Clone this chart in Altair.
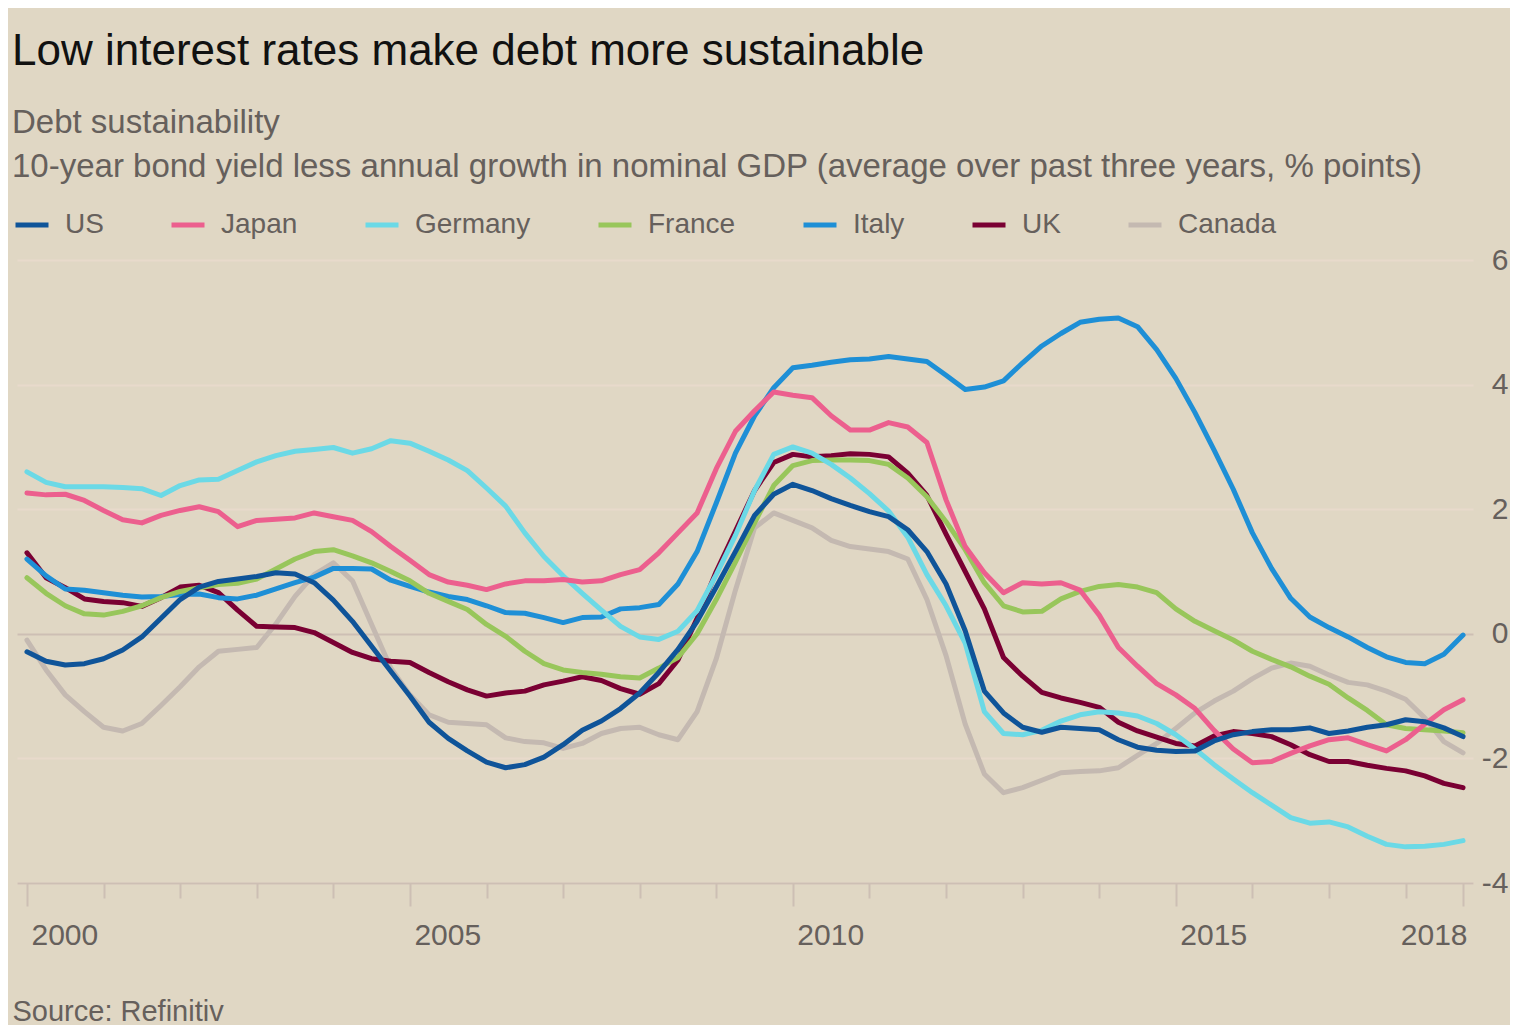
import altair as alt
import pandas as pd

# ---------------- data ----------------
countries = ["US", "Japan", "Germany", "France", "Italy", "UK", "Canada"]
colors = ["#0F5499", "#EC5F8E", "#6BD9E6", "#98C65B", "#1E8FD6", "#7A0033", "#C4B9B1"]

# quarterly observations, 2000 Q1 .. 2018 Q4
quarters = [2000 + 0.25 * i for i in range(76)]

US = [
    -0.29, -0.44, -0.50, -0.48,
    -0.40, -0.26, -0.05, 0.25,
    0.55, 0.75, 0.84, 0.88,
    0.92, 0.98, 0.96, 0.82,
    0.54, 0.20, -0.20, -0.60,
    -1.00, -1.42, -1.68, -1.88,
    -2.06, -2.15, -2.10, -1.98,
    -1.78, -1.55, -1.40, -1.20,
    -0.95, -0.62, -0.25, 0.20,
    0.75, 1.32, 1.90, 2.24,
    2.40, 2.30, 2.17, 2.06,
    1.96, 1.88, 1.67, 1.32,
    0.80, 0.05, -0.92, -1.27,
    -1.50, -1.58, -1.50, -1.52,
    -1.54, -1.70, -1.82, -1.87,
    -1.89, -1.88, -1.72, -1.62,
    -1.57, -1.54, -1.54, -1.51,
    -1.60, -1.56, -1.50, -1.46,
    -1.38, -1.41, -1.51, -1.65,
]
Japan = [
    2.26, 2.23, 2.24, 2.14,
    1.98, 1.83, 1.78, 1.90,
    1.98, 2.04, 1.96, 1.72,
    1.82, 1.84, 1.86, 1.94,
    1.88, 1.82, 1.64, 1.40,
    1.18, 0.95, 0.83, 0.78,
    0.71, 0.80, 0.85, 0.85,
    0.87, 0.83, 0.85, 0.95,
    1.03, 1.30, 1.62, 1.94,
    2.65, 3.25, 3.58, 3.88,
    3.83, 3.79, 3.50, 3.27,
    3.27, 3.39, 3.32, 3.07,
    2.15, 1.40, 0.98, 0.66,
    0.82, 0.80, 0.82, 0.70,
    0.30, -0.22, -0.52, -0.80,
    -0.98, -1.20, -1.55, -1.85,
    -2.07, -2.05, -1.92, -1.80,
    -1.70, -1.67, -1.78, -1.88,
    -1.70, -1.45, -1.22, -1.06,
]
Germany = [
    2.60, 2.43, 2.36, 2.36,
    2.36, 2.35, 2.33, 2.22,
    2.38, 2.47, 2.48, 2.62,
    2.76, 2.86, 2.93, 2.96,
    2.99, 2.90, 2.97, 3.10,
    3.06, 2.93, 2.79, 2.62,
    2.34, 2.05, 1.62, 1.24,
    0.93, 0.65, 0.38, 0.12,
    -0.05, -0.09, 0.04, 0.37,
    0.95, 1.58, 2.30, 2.88,
    3.00, 2.90, 2.72, 2.50,
    2.25, 1.97, 1.55, 0.95,
    0.45, -0.15, -1.25, -1.60,
    -1.62, -1.55, -1.40, -1.30,
    -1.25, -1.27, -1.32, -1.44,
    -1.62, -1.85, -2.10, -2.33,
    -2.55, -2.75, -2.95, -3.04,
    -3.02, -3.10, -3.25, -3.38,
    -3.42, -3.41, -3.38, -3.32,
]
France = [
    0.90, 0.65, 0.45, 0.32,
    0.30, 0.36, 0.45, 0.58,
    0.68, 0.74, 0.79, 0.81,
    0.88, 1.04, 1.20, 1.32,
    1.35, 1.25, 1.14, 1.00,
    0.85, 0.65, 0.52, 0.39,
    0.15, -0.04, -0.28, -0.48,
    -0.58, -0.62, -0.65, -0.69,
    -0.71, -0.55, -0.38, 0.00,
    0.55, 1.15, 1.78, 2.38,
    2.70, 2.78, 2.79, 2.79,
    2.78, 2.72, 2.50, 2.20,
    1.80, 1.35, 0.82, 0.45,
    0.35, 0.36, 0.56, 0.68,
    0.76, 0.79, 0.75, 0.66,
    0.40, 0.20, 0.05, -0.10,
    -0.28, -0.41, -0.53, -0.68,
    -0.81, -1.03, -1.23, -1.46,
    -1.52, -1.54, -1.56, -1.59,
]
Italy = [
    1.20, 0.93, 0.72, 0.70,
    0.66, 0.62, 0.59, 0.60,
    0.63, 0.64, 0.58, 0.56,
    0.62, 0.72, 0.82, 0.91,
    1.05, 1.05, 1.04, 0.86,
    0.76, 0.67, 0.60, 0.55,
    0.45, 0.34, 0.33, 0.26,
    0.18, 0.26, 0.27, 0.40,
    0.42, 0.47, 0.80, 1.32,
    2.10, 2.90, 3.50, 3.95,
    4.27, 4.31, 4.36, 4.40,
    4.41, 4.45, 4.41, 4.37,
    4.15, 3.92, 3.96, 4.06,
    4.35, 4.62, 4.82, 5.00,
    5.05, 5.07, 4.93, 4.56,
    4.10, 3.55, 2.95, 2.32,
    1.62, 1.05, 0.57, 0.27,
    0.10, -0.05, -0.22, -0.37,
    -0.46, -0.48, -0.33, -0.02,
]
UK = [
    1.30, 0.90, 0.74, 0.56,
    0.52, 0.50, 0.44, 0.58,
    0.75, 0.78, 0.66, 0.38,
    0.12, 0.11, 0.10, 0.02,
    -0.14, -0.30, -0.40, -0.44,
    -0.46, -0.62, -0.77, -0.90,
    -1.00, -0.95, -0.92, -0.82,
    -0.76, -0.69, -0.75, -0.88,
    -0.97, -0.80, -0.42, 0.25,
    1.00, 1.65, 2.30, 2.75,
    2.88, 2.84, 2.86, 2.89,
    2.88, 2.84, 2.58, 2.22,
    1.60, 1.00, 0.40, -0.38,
    -0.68, -0.94, -1.03, -1.10,
    -1.18, -1.42, -1.56, -1.66,
    -1.76, -1.80, -1.64, -1.57,
    -1.60, -1.65, -1.78, -1.94,
    -2.05, -2.05, -2.11, -2.16,
    -2.20, -2.28, -2.40, -2.47,
]
Canada = [
    -0.10, -0.58, -0.98, -1.25,
    -1.50, -1.56, -1.44, -1.15,
    -0.85, -0.53, -0.28, -0.25,
    -0.22, 0.16, 0.60, 0.95,
    1.14, 0.85, 0.15, -0.55,
    -0.98, -1.30, -1.42, -1.44,
    -1.46, -1.67, -1.73, -1.75,
    -1.84, -1.76, -1.60, -1.52,
    -1.50, -1.62, -1.70, -1.25,
    -0.40, 0.70, 1.70, 1.94,
    1.82, 1.70, 1.50, 1.40,
    1.36, 1.32, 1.20, 0.55,
    -0.35, -1.45, -2.25, -2.55,
    -2.47, -2.35, -2.23, -2.21,
    -2.20, -2.15, -1.95, -1.76,
    -1.52, -1.27, -1.08, -0.92,
    -0.72, -0.55, -0.47, -0.52,
    -0.66, -0.78, -0.82, -0.92,
    -1.05, -1.35, -1.73, -1.91,
]

series = {"US": US, "Japan": Japan, "Germany": Germany, "France": France,
          "Italy": Italy, "UK": UK, "Canada": Canada}

x_tick_values = list(range(2000, 2019)) + [2018.75]
y_tick_values = [-4, -2, 0, 2, 4, 6]

# rows in reverse legend order so US is drawn on top
rows = []
for name in reversed(countries):
    for q, v in zip(quarters, series[name]):
        rows.append({"date": q, "value": v, "country": name})
df = pd.DataFrame(rows)

FONT = "Liberation Sans"
BG = "#E0D7C4"
MUTED = "#66605C"
AXISLINE = "#CDBFB4"

x_axis = alt.Axis(
    values=x_tick_values,
    grid=False,
    domain=True,
    domainColor=AXISLINE,
    domainWidth=2,
    ticks=True,
    tickColor=AXISLINE,
    tickWidth=2,
    tickSize={"condition": {"test": "datum.value % 5 == 0 || datum.value > 2018.5", "value": 23}, "value": 15},
    labelExpr="datum.value > 2018.5 ? '2018' : (datum.value % 5 == 0 ? toString(datum.value) : '')",
    labelAlign={"condition": {"test": "datum.value > 2018.5", "value": "right"}, "value": "left"},
    labelOffset=4,
    labelFlush=False,
    labelOverlap=False,
    labelFont=FONT,
    labelFontSize=30,
    labelColor=MUTED,
    labelBaseline="top",
    labelPadding=14,
    title="Source: Refinitiv",
    titleFont=FONT,
    titleFontSize=29,
    titleFontWeight="normal",
    titleColor=MUTED,
    titleAnchor="start",
    titleAlign="left",
    titleBaseline="alphabetic",
    titleX=-5,
    titleY=137,
)

y_axis = alt.Axis(
    orient="right",
    values=y_tick_values,
    grid=True,
    gridColor={"condition": {"test": "datum.value == 0", "value": AXISLINE}, "value": "#E8DACB"},
    gridWidth=2,
    domain=False,
    ticks=False,
    labelExpr="toString(datum.value)",
    labelAlign="right",
    labelBaseline="middle",
    labelPadding=35,
    labelFont=FONT,
    labelFontSize=30,
    labelColor=MUTED,
    title=None,
)

chart = (
    alt.Chart(df)
    .mark_line(strokeWidth=5, strokeCap="round", strokeJoin="round")
    .encode(
        x=alt.X("date:Q", scale=alt.Scale(domain=[1999.87, 2018.88], nice=False, zero=False), axis=x_axis),
        y=alt.Y("value:Q", scale=alt.Scale(domain=[-4, 6], nice=False, zero=False), axis=y_axis),
        color=alt.Color(
            "country:N",
            scale=alt.Scale(domain=countries, range=colors),
            legend=alt.Legend(
                orient="none",
                legendX=-4,
                legendY=-54,
                direction="horizontal",
                columns=7,
                title=None,
                symbolType="stroke",
                symbolSize=1089,
                symbolStrokeWidth=5,
                labelFont=FONT,
                labelFontSize=28,
                labelColor=MUTED,
                labelOffset=14,
                columnPadding=57,
                padding=0,
            ),
        ),
        detail="country:N",
    )
    .properties(
        width=1456,
        height=623,
        autosize=alt.AutoSizeParams(type="none"),
        padding={"left": 9, "top": 252, "right": 37, "bottom": 142},
        background=BG,
        title=alt.TitleParams(
            text="Low interest rates make debt more sustainable",
            subtitle=["Debt sustainability",
                      "10-year bond yield less annual growth in nominal GDP (average over past three years, % points)"],
            anchor="start",
            frame="group",
            orient="top",
            dx=-5,
            offset=22,
            font=FONT,
            fontSize=44,
            fontWeight="normal",
            color="#111111",
            subtitleFont=FONT,
            subtitleFontSize=33,
            subtitleColor=MUTED,
            subtitleLineHeight=44,
            subtitlePadding=33,
        ),
    )
    .configure_view(stroke=None)
)

chart.save("out.html", embed_options={"renderer": "svg", "actions": False})
